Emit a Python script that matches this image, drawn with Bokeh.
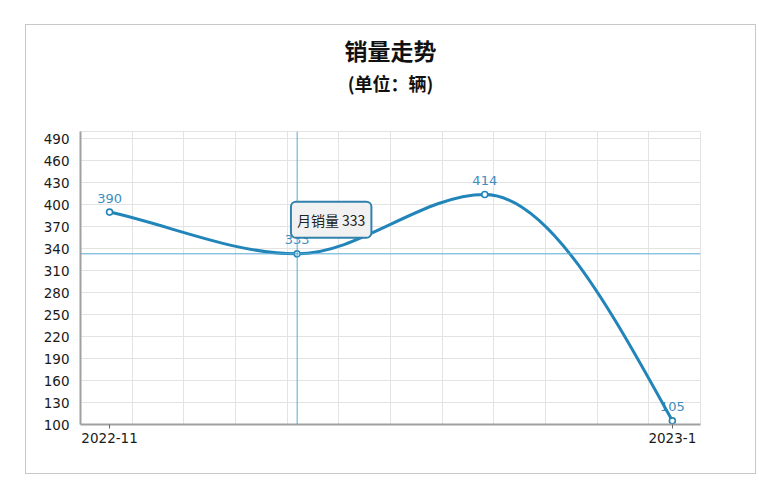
from bokeh.plotting import figure
from bokeh.models import FixedTicker, Span, Label, Title
from bokeh.core.properties import value
from bokeh.embed import file_html
from bokeh.resources import INLINE

# ---- data ----
months = ["2022-11", "", "", "2023-1"]   # middle month labels are not shown in the reference
sales = [390, 333, 414, 105]
y_ticks = [100, 130, 160, 190, 220, 250, 280, 310, 340, 370, 400, 430, 460, 490]
title_text = "销量走势"
subtitle_text = "(单位：辆)"
tooltip_index = 1
tooltip_prefix = "月销量"

# ---- styles ----
LINE = "#2185ba"
LABEL = "#3d8dbd"
GRID = "#e3e3e3"
AXIS = "#a0a0a0"
CROSS = "#57aad3"

xs = list(range(len(sales)))
x_start, x_end = -0.155, 3.15

p = figure(width=731, height=450, x_range=(x_start, x_end), y_range=(100, 500),
           output_backend="svg", toolbar_location=None,
           min_border_left=54, min_border_right=57, min_border_top=106, min_border_bottom=51)
p.margin = (24, 0, 0, 25)
p.styles = {"border": "1px solid #c8c8c8"}
p.background_fill_color = "white"
p.border_fill_color = "white"
p.outline_line_color = GRID

# grids
p.ygrid.ticker = FixedTicker(ticks=y_ticks)
p.ygrid.grid_line_color = GRID
p.xgrid.ticker = FixedTicker(ticks=[x_start + i * (x_end - x_start) / 12 for i in range(13)])
p.xgrid.grid_line_color = GRID

# axes
p.yaxis.ticker = FixedTicker(ticks=y_ticks)
p.yaxis.axis_line_color = AXIS
p.yaxis.axis_line_width = 2
p.yaxis.major_tick_line_color = None
p.yaxis.minor_tick_line_color = None
p.yaxis.major_label_standoff = 5
p.yaxis.major_label_text_font = "DejaVu Sans"
p.yaxis.major_label_text_font_size = "13.5px"
p.yaxis.major_label_text_color = "#1a1a1a"

tick_idx = [i for i, m in enumerate(months) if m]
p.xaxis.ticker = FixedTicker(ticks=tick_idx)
p.xaxis.major_label_overrides = {i: months[i] for i in tick_idx}
p.xaxis.axis_line_color = AXIS
p.xaxis.axis_line_width = 2
p.xaxis.major_tick_line_color = "#666666"
p.xaxis.major_tick_out = 4
p.xaxis.major_tick_in = 0
p.xaxis.minor_tick_line_color = None
p.xaxis.major_label_standoff = 4
p.xaxis.major_label_text_font = "DejaVu Sans"
p.xaxis.major_label_text_font_size = "13.5px"
p.xaxis.major_label_text_color = "#1a1a1a"

# titles: an empty spacer panel next to the plot, then subtitle, then main title
p.add_layout(Title(text=" ", align="center", text_font="Noto Sans CJK SC",
                   text_font_size="17px", standoff=8), "above")
p.add_layout(Title(text=subtitle_text, align="center", text_font="Noto Sans CJK SC",
                   text_font_style="bold", text_font_size="18px", text_color="#111111",
                   standoff=2), "above")
p.add_layout(Title(text=title_text, align="center", text_font="Noto Sans CJK SC",
                   text_font_style="bold", text_font_size="23px", text_color="#111111",
                   standoff=0), "above")

# data labels
p.text(x=xs, y=sales, text=[str(v) for v in sales], text_align="center",
       text_baseline="middle", y_offset=-14, text_color=LABEL,
       text_font=value("DejaVu Sans"), text_font_size="13px")

# smooth monotone curve drawn with bezier segments
n = len(sales)
sec = [sales[i + 1] - sales[i] for i in range(n - 1)]
m = [0.0] * n
for i in range(1, n - 1):
    if sec[i - 1] * sec[i] <= 0:
        m[i] = 0.0
    else:
        m[i] = 2 * sec[i - 1] * sec[i] / (sec[i - 1] + sec[i])
m[0] = sec[0]
m[-1] = (3 * sec[-1] - m[-2]) / 2
bx0, by0, bx1, by1, cx0, cy0, cx1, cy1 = [], [], [], [], [], [], [], []
for i in range(n - 1):
    bx0.append(xs[i]); by0.append(sales[i])
    bx1.append(xs[i + 1]); by1.append(sales[i + 1])
    cx0.append(xs[i] + 1 / 3); cy0.append(sales[i] + m[i] / 3)
    cx1.append(xs[i + 1] - 1 / 3); cy1.append(sales[i + 1] - m[i + 1] / 3)
p.bezier(x0=bx0, y0=by0, x1=bx1, y1=by1, cx0=cx0, cy0=cy0, cx1=cx1, cy1=cy1,
         line_color=LINE, line_width=3, line_cap="round")

# crosshair
p.add_layout(Span(location=xs[tooltip_index], dimension="height", line_color=CROSS, line_width=1))
p.add_layout(Span(location=sales[tooltip_index], dimension="width", line_color=CROSS, line_width=1))

p.scatter(x=xs, y=sales, size=6, fill_color="white", line_color=LINE, line_width=1.6)

# tooltip
p.add_layout(Label(x=xs[tooltip_index], y=sales[tooltip_index], x_offset=34, y_offset=34,
                   text=f"{tooltip_prefix} {sales[tooltip_index]}",
                   text_align="center", text_baseline="middle",
                   text_font="Noto Sans CJK SC", text_font_size="14px", text_color="#222222",
                   background_fill_color="#f1f1f1", border_line_color="#3281ad",
                   border_line_width=2, border_radius=5, padding=(6, 8)))

open("out.html", "w").write(file_html(p, INLINE))
